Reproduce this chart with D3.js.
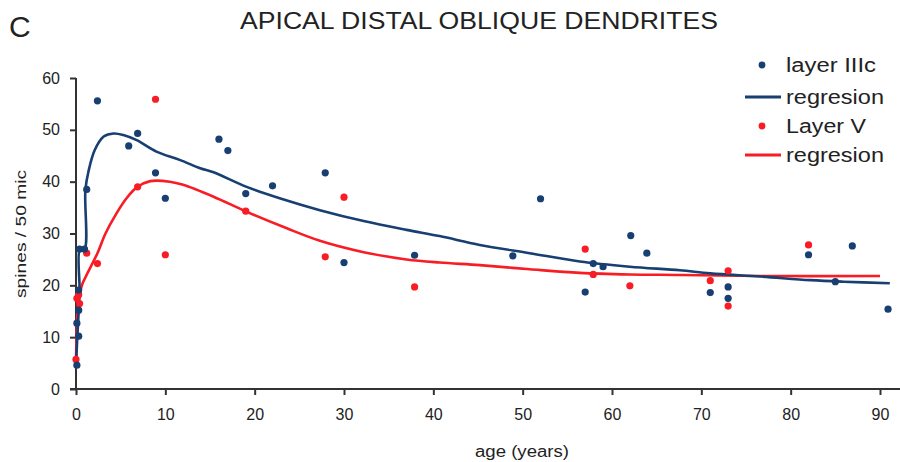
<!DOCTYPE html>
<html><head><meta charset="utf-8">
<script src="https://cdn.jsdelivr.net/npm/d3@7"></script>
<style>body{margin:0;background:#fff}svg{display:block}text{font-family:"Liberation Sans",Arial,sans-serif;fill:#222}</style>
</head><body><svg id="c" width="900" height="462"></svg>
<script>
// ---- data ----
const xTicks = [0,10,20,30,40,50,60,70,80,90];
const yTicks = [0,10,20,30,40,50,60];
const layerIIIcAge    = [0.1,0.3,0.1,0.3,0.3,0.4,0.95,1.2,2.4,5.9,6.9,8.9,10.0,16.0,17.0,19.0,22.0,27.9,30.0,37.9,48.9,52.0,57.0,57.9,59.0,62.1,63.9,71.0,73.0,73.0,82.0,85.0,86.9,90.9];
const layerIIIcSpines = [4.6,10.2,12.7,15.2,19.1,27.0,27.0,38.5,55.6,46.9,49.3,41.7,36.8,48.2,46.0,37.7,39.2,41.7,24.4,25.8,25.7,36.7,18.7,24.2,23.6,29.6,26.2,18.6,19.7,17.5,25.9,20.7,27.6,15.4];
const layerVAge    = [0.0,0.1,0.3,0.4,1.2,2.4,6.9,8.9,10.0,19.0,27.9,30.0,37.9,57.0,57.9,62.0,71.0,73.0,73.0,82.0];
const layerVSpines = [5.7,17.5,18.2,16.5,26.2,24.2,39.0,55.9,25.9,34.3,25.5,37.0,19.7,27.0,22.1,19.9,20.9,22.8,16.0,27.8];
const regIIIcAge = [0,0.15,0.3,0.4,0.45,0.95,1.05,1.4,2.1,3.1,4.2,5.3,6.8,9.0,11.6,13.9,15.4,19.1,22.8,27.3,32.2,37.0,40.7,45.2,50.8,56.4,62.0,67.6,71.0,76.6,82.2,85.9,91.1];
const regIIIcVal = [4.6,10.1,15.0,19.1,27.0,27.0,38.4,42.0,46.1,48.7,49.3,49.0,48.0,45.8,44.2,42.6,41.8,39.0,36.8,34.5,32.4,30.7,29.5,27.8,26.2,24.6,23.6,22.9,22.3,21.7,21.0,20.7,20.4];
const regVAge = [0,0.07,0.15,0.34,0.7,1.27,2.4,3.3,4.5,5.7,6.8,8.3,10.5,12.0,15.4,19.1,23.6,27.3,32.2,37.0,40.7,45.2,50.8,56.4,62.0,67.6,76.6,90.0];
const regVVal = [5.7,11.0,14.6,17.8,20.2,22.3,26.2,30.0,33.8,36.9,38.9,40.1,40.0,39.4,37.1,34.2,31.0,28.6,26.4,25.0,24.4,23.9,23.1,22.4,22.1,22.0,21.8,21.8];
const legendLabels = ["layer IIIc","regresion","Layer V","regresion"];

const BLUE = "#173f72", RED = "#f81c24";
const svg = d3.select("#c");
const x = d3.scaleLinear().domain([0,90]).range([76,880]);
const y = d3.scaleLinear().domain([0,60]).range([389,78]);

// panel letter and title
svg.append("text").attr("x",9).attr("y",37).attr("font-size",30).text("C");
svg.append("text").attr("x",479).attr("y",29).attr("text-anchor","middle").attr("font-size",23)
   .attr("textLength",478).attr("lengthAdjust","spacingAndGlyphs").text("APICAL DISTAL OBLIQUE DENDRITES");

// axes
const gx = svg.append("g").attr("transform",`translate(0,${y(0)})`)
  .call(d3.axisBottom(x).tickValues(xTicks).tickSize(6).tickSizeOuter(0).tickPadding(14));
const gy = svg.append("g").attr("transform",`translate(${x(0)},0)`)
  .call(d3.axisLeft(y).tickValues(yTicks).tickSize(6).tickSizeOuter(0).tickPadding(10));
[gx,gy].forEach(g=>{
  g.selectAll("path.domain").remove();
  g.selectAll("line").attr("stroke","#333").attr("stroke-width",2);
  g.selectAll("text").attr("font-size",16).attr("fill","#222").style("font-family","'Liberation Sans',Arial,sans-serif");
});
svg.append("line").attr("x1",x(0)-6).attr("x2",900).attr("y1",y(0)).attr("y2",y(0)).attr("stroke","#333").attr("stroke-width",2);
svg.append("line").attr("x1",x(0)).attr("x2",x(0)).attr("y1",y(60)).attr("y2",y(0)).attr("stroke","#333").attr("stroke-width",2);

// axis titles
svg.append("text").attr("x",522).attr("y",457).attr("text-anchor","middle").attr("font-size",16)
   .attr("textLength",94).attr("lengthAdjust","spacingAndGlyphs").text("age (years)");
svg.append("text").attr("transform","translate(26,234) rotate(-90)").attr("text-anchor","middle").attr("font-size",15)
   .attr("textLength",128).attr("lengthAdjust","spacingAndGlyphs").text("spines / 50 mic");

// regression lines
const line = d3.line().x(d=>x(d[0])).y(d=>y(d[1])).curve(d3.curveCatmullRom.alpha(0.5));
svg.append("path").datum(regVAge.map((a,i)=>[a,regVVal[i]])).attr("d",line)
   .attr("fill","none").attr("stroke",RED).attr("stroke-width",2.6).attr("stroke-linejoin","round");
svg.append("path").datum(regIIIcAge.map((a,i)=>[a,regIIIcVal[i]])).attr("d",line)
   .attr("fill","none").attr("stroke",BLUE).attr("stroke-width",2.6).attr("stroke-linejoin","round");

// points
svg.append("g").selectAll("circle").data(layerVAge.map((a,i)=>[a,layerVSpines[i]])).join("circle")
   .attr("cx",d=>x(d[0])).attr("cy",d=>y(d[1])).attr("r",3.6).attr("fill",RED);
svg.append("g").selectAll("circle").data(layerIIIcAge.map((a,i)=>[a,layerIIIcSpines[i]])).join("circle")
   .attr("cx",d=>x(d[0])).attr("cy",d=>y(d[1])).attr("r",3.6).attr("fill",BLUE);

// legend
const rows = [65,97,126,155];
const kinds = ["dot","line","dot","line"];
const cols = [BLUE,BLUE,RED,RED];
const widths = [90,98,80,98];
const lg = svg.append("g");
legendLabels.forEach((t,i)=>{
  if(kinds[i]==="dot") lg.append("circle").attr("cx",762).attr("cy",rows[i]).attr("r",3.4).attr("fill",cols[i]);
  else lg.append("line").attr("x1",745).attr("x2",781).attr("y1",rows[i]).attr("y2",rows[i]).attr("stroke",cols[i]).attr("stroke-width",2.8);
  lg.append("text").attr("x",786).attr("y",rows[i]+7).attr("font-size",20)
    .attr("textLength",widths[i]).attr("lengthAdjust","spacingAndGlyphs").text(t);
});
</script></body></html>
